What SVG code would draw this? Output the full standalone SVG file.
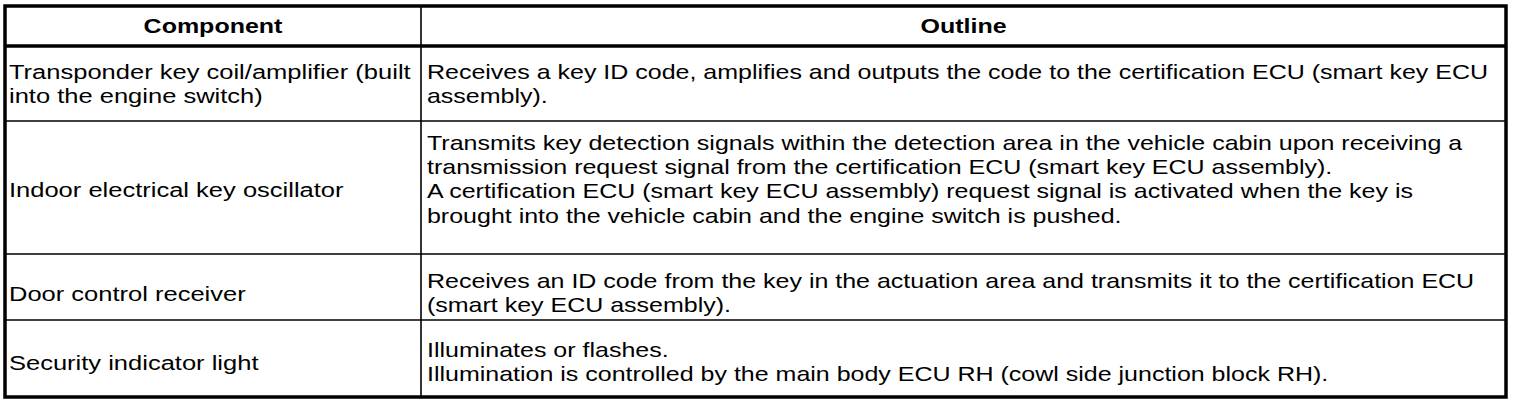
<svg xmlns="http://www.w3.org/2000/svg" width="1520" height="404" viewBox="0 0 1520 404">
<style>
.t{font-family:"Liberation Sans",Arial,Helvetica,sans-serif;font-size:21px;fill:#000}
.h{font-weight:bold;text-anchor:middle}
.thin{stroke:#000;stroke-width:1.6;fill:none}
.thick{stroke:#000;stroke-width:3.5;fill:none}
</style>
<rect x="0" y="0" width="1520" height="404" fill="#fff"/>
<g id="grid">
<line class="thick" x1="5" y1="46" x2="1506" y2="46"/>
<line class="thin" x1="5" y1="121" x2="1506" y2="121"/>
<line class="thin" x1="5" y1="254" x2="1506" y2="254"/>
<line class="thin" x1="5" y1="320" x2="1506" y2="320"/>
<line class="thin" x1="421" y1="6" x2="421" y2="397"/>
<rect class="thick" x="5" y="6" width="1501" height="391"/>
</g>
<g transform="scale(1.19,1)">
<g id="header">
<text class="t h" x="179" y="33">Component</text>
<text class="t h" x="809.7" y="33">Outline</text>
</g>
</g>
<g id="components" transform="scale(1.215,1)">
<text class="t" x="7.4" y="79">Transponder key coil/amplifier (built</text>
<text class="t" x="7.4" y="103">into the engine switch)</text>
<text class="t" x="7.4" y="197">Indoor electrical key oscillator</text>
<text class="t" x="7.4" y="301">Door control receiver</text>
<text class="t" x="7.4" y="370">Security indicator light</text>
</g>
<g id="outlines" transform="scale(1.19,1)">
<g id="row1">
<text class="t" x="358.8" y="79">Receives a key ID code, amplifies and outputs the code to the certification ECU (smart key ECU</text>
<text class="t" x="358.8" y="103">assembly).</text>
</g>
<g id="row2">
<text class="t" x="358.8" y="150">Transmits key detection signals within the detection area in the vehicle cabin upon receiving a</text>
<text class="t" x="358.8" y="174">transmission request signal from the certification ECU (smart key ECU assembly).</text>
<text class="t" x="358.8" y="198.5">A certification ECU (smart key ECU assembly) request signal is activated when the key is</text>
<text class="t" x="358.8" y="223">brought into the vehicle cabin and the engine switch is pushed.</text>
</g>
<g id="row3">
<text class="t" x="358.8" y="288">Receives an ID code from the key in the actuation area and transmits it to the certification ECU</text>
<text class="t" x="358.8" y="312">(smart key ECU assembly).</text>
</g>
<g id="row4">
<text class="t" x="358.8" y="357">Illuminates or flashes.</text>
<text class="t" x="358.8" y="381">Illumination is controlled by the main body ECU RH (cowl side junction block RH).</text>
</g>
</g>
</svg>
